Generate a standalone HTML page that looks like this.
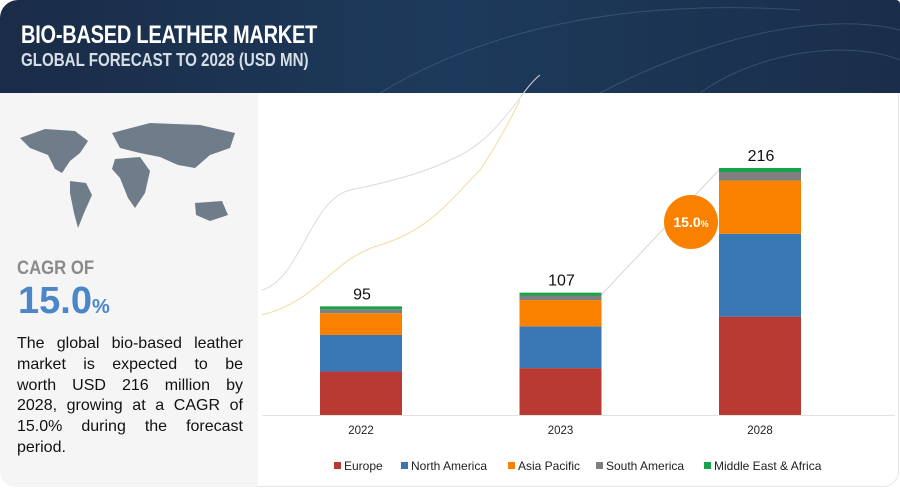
<!DOCTYPE html>
<html><head><meta charset="utf-8"><style>
body{margin:0;width:900px;height:489px;background:#fff;font-family:"Liberation Sans",sans-serif;overflow:hidden;position:relative}
#hdr{position:absolute;left:0;top:0;width:900px;height:93px;background:linear-gradient(90deg,#1a2c47,#1d3a5c 50%,#1a2e4a);border-top-left-radius:18px;border-top-right-radius:4px;overflow:hidden}
#t1{position:absolute;left:21px;top:21px;color:#fff;font-weight:bold;font-size:25px;transform:scaleX(0.8);transform-origin:left;letter-spacing:-0.3px}
#t2{position:absolute;left:21px;top:50px;color:#d8dee6;font-weight:bold;font-size:18px;transform:scaleX(0.84);transform-origin:left}
#left{position:absolute;left:0;top:93px;width:258px;height:394px;background:#f5f5f5;border-bottom-left-radius:16px}
#frame{position:absolute;left:258px;top:93px;width:640px;height:393px;border-right:1px solid #e6e6e6;border-bottom:1px solid #e6e6e6;border-bottom-right-radius:16px}
#cagr{position:absolute;left:17px;top:258px;color:#8a8a8a;font-weight:bold;font-size:19px;transform:scaleX(0.88);transform-origin:left}
#pct{position:absolute;left:18px;top:280px;color:#4a86c8;font-weight:bold;font-size:38px}
#pct span{font-size:20px}
#desc{position:absolute;left:17px;top:334px;width:226px;font-size:16px;line-height:20.8px;color:#111}
#desc div{white-space:nowrap;display:flex;justify-content:space-between}
#desc div.last{justify-content:flex-start}
</style></head><body>
<div id="hdr">
<svg width="900" height="93" style="position:absolute;left:0;top:0"><g stroke="#6b86a6" stroke-opacity="0.35" fill="none"><path d="M380 93 C500 20 650 0 800 10"/><path d="M600 93 C700 40 820 10 900 30"/><path d="M700 93 C760 50 850 40 900 60"/></g></svg>
<div id="t1">BIO-BASED LEATHER MARKET</div>
<div id="t2">GLOBAL FORECAST TO 2028 (USD MN)</div>
</div>
<div id="left">
<svg width="258" height="160" style="position:absolute;left:0;top:0"><g fill="#6f7c8a">
<path d="M20 45 L45 36 L75 38 L88 48 L80 60 L70 68 L62 80 L55 76 L48 62 L30 55 Z"/>
<path d="M70 88 L86 90 L92 102 L84 120 L78 135 L74 120 L70 100 Z"/>
<path d="M112 40 L150 30 L200 32 L235 40 L230 55 L210 62 L195 75 L178 72 L160 64 L140 60 L120 55 Z"/>
<path d="M115 66 L140 64 L150 78 L145 100 L135 115 L128 105 L120 85 L112 76 Z"/>
<path d="M195 110 L222 108 L228 122 L210 128 L196 122 Z"/>
</g></svg>
</div>
<div id="frame"></div>
<div id="cagr">CAGR OF</div>
<div id="pct">15.0<span>%</span></div>
<div id="desc">
<div><span>The</span><span>global</span><span>bio-based</span><span>leather</span></div>
<div><span>market</span><span>is</span><span>expected</span><span>to</span><span>be</span></div>
<div><span>worth</span><span>USD</span><span>216</span><span>million</span><span>by</span></div>
<div><span>2028,</span><span>growing</span><span>at</span><span>a</span><span>CAGR</span><span>of</span></div>
<div><span>15.0%</span><span>during</span><span>the</span><span>forecast</span></div>
<div class="last"><span>period.</span></div>
</div>
<svg id="chart" width="900" height="489" style="position:absolute;left:0;top:0"></svg>
<script>
const categories=["2022","2023","2028"];
const totals=[95,107,216];
const seriesNames=["Europe","North America","Asia Pacific","South America","Middle East & Africa"];
const europe=[38,41,86];
const northAmerica=[32,36.5,72.5];
const asiaPacific=[19,23,46.5];
const southAmerica=[3.5,4,7.5];
const mea=[2.5,2.5,3.5];
const colors=["#b83a32","#3a78b5","#fa8100","#7f7f7f","#16a34a"];
const series=[europe,northAmerica,asiaPacific,southAmerica,mea];
const NS="http://www.w3.org/2000/svg";
const svg=document.getElementById('chart');
const base=415,pxPer=247/216,barW=82;
const xCenter=i=>361+i*199.5;
const y=v=>base-v*pxPer;
function mk(t,a){const e=document.createElementNS(NS,t);for(const k in a)e.setAttribute(k,a[k]);svg.appendChild(e);return e;}
const ax=mk('line',{x1:262,x2:895,y1:base+0.5,y2:base+0.5,stroke:'#e3e3e3','stroke-width':1});


const c1=mk('path',{d:'M262 290 C300 280 310 200 350 190 C400 180 430 170 450 160 C500 140 520 90 540 75',fill:'none',stroke:'#dcdcdc'});


const c2=mk('path',{d:'M262 315 C320 300 330 260 380 245 C430 230 450 200 480 170 C500 140 510 120 520 100',fill:'none',stroke:'#f3dca0'});


categories.forEach((c,i)=>{
 let cum=0;
 series.forEach((s,j)=>{
  const r=mk('rect',{x:xCenter(i)-barW/2,y:y(cum+s[i]),width:barW,height:s[i]*pxPer,fill:colors[j]});
  
  
  cum+=s[i];
 });
 const tl=mk('text',{x:xCenter(i)+1,y:y(cum)-7,'text-anchor':'middle','font-size':'16','font-family':'Liberation Sans',fill:'#111'});
 tl.textContent=totals[i];
 
 
 const xl=mk('text',{x:xCenter(i),y:434,'text-anchor':'middle','font-size':'11.5','font-family':'Liberation Sans',fill:'#222'});
 xl.textContent=c;
 
 
});
const ar=mk('line',{x1:xCenter(1)+41,y1:y(107)+2,x2:xCenter(2)-41,y2:y(216)+2,stroke:'#d6d6d6','stroke-width':1});


const circ=mk('circle',{cx:691,cy:222,r:27,fill:'#fa8100'});


const ct=mk('text',{x:691,y:227,'text-anchor':'middle','font-size':'14','font-weight':'bold','font-family':'Liberation Sans',fill:'#fff'});
ct.innerHTML='15.0<tspan font-size="9">%</tspan>';


const legX=[334,401,508,596,704];
seriesNames.forEach((n,j)=>{
 const r=mk('rect',{x:legX[j],y:462,width:7,height:7,fill:colors[j]});
 
 
 const t=mk('text',{x:legX[j]+10,y:470,'font-size':'12','font-family':'Liberation Sans',fill:'#222'});
 t.textContent=n;
 
 
});
</script>
</body></html>
